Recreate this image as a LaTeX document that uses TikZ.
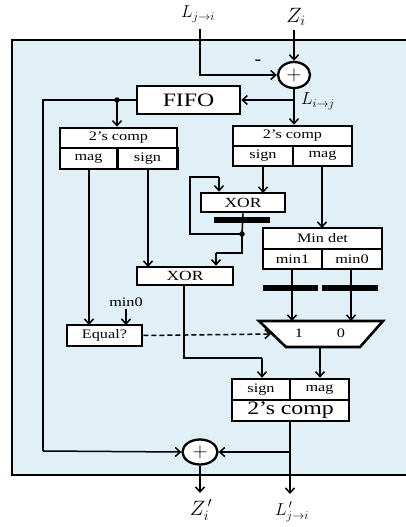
\documentclass[tikz,border=0pt]{standalone}
\usepackage{fontspec}
\setmainfont{Liberation Serif}[FakeStretch=1.25]
\usetikzlibrary{arrows.meta,shapes.geometric}
\definecolor{bgblue}{RGB}{224,240,246}
\begin{document}
\begin{tikzpicture}[x=1pt,y=-1pt,
  box/.style={draw, line width=2.6pt, fill=white, inner sep=0pt, minimum height=20pt},
  fs/.style={font=\fontsize{#1}{#1}\selectfont},
  wire/.style={line width=1.5pt},
  arr/.style={wire, -{Straight Barb[length=5pt,width=9pt]}},
  bar/.style={fill=black, inner sep=0pt, minimum height=6pt},
  dotn/.style={circle, fill=black, inner sep=0pt, minimum size=5.5pt},
  adder/.style={ellipse, draw, line width=2.3pt, fill=white, inner sep=0pt, fs=20},
  lab/.style={inner sep=1pt}]
\useasboundingbox (0,0) rectangle (405,527);
% outer panel
\fill[bgblue] (12,40) rectangle (412,475);
\draw[line width=2.8pt] (412,40) -- (12,40) -- (12,475) -- (412,475);

% top inputs
\node[lab, fs=18] (ljin) at (198,14) {$L_{j\rightarrow i}$};
\node[lab, fs=22] (zin) at (296,17) {$Z_i$};
\coordinate (ljtop) at (200,29);
\coordinate (ztop) at (294,30);
\node[adder, minimum width=32pt, minimum height=26pt] (add1) at (294,75) {$+$};
\node[lab, fs=16] (minus) at (258,62) {\textbf{-}};
\node[lab, fs=18, anchor=west] (lij) at (300,101) {$L_{i\rightarrow j}$};

% FIFO
\node[box, fs=19, minimum width=103pt, minimum height=28pt] (fifo) at (188.5,100) {FIFO};
\node[dotn] (dot1) at (117,100) {};
\coordinate (lcorner) at (43,100);
\coordinate (lbot) at (43,451);

% left 2's comp
\node[box, fs=13, minimum width=117pt] (lct) at (118.5,138) {2’s comp};
\node[box, fs=13, minimum width=57pt, minimum height=21pt] (lcm) at (88.5,158.5) {mag};
\node[box, fs=13, minimum width=60pt, minimum height=21pt] (lcs) at (147.5,158.5) {sign};

% right 2's comp
\node[box, fs=13, minimum width=119pt] (rct) at (292.5,136) {2’s comp};
\node[box, fs=13, minimum width=60pt] (rcs) at (263,156) {sign};
\node[box, fs=13, minimum width=59pt] (rcm) at (322.5,156) {mag};

% XOR 1 with register bar
\node[box, fs=14, minimum width=84pt, minimum height=19pt] (xor1) at (243,202.5) {XOR};
\node[bar, minimum width=56pt] (bar1) at (242,220) {};
\node[dotn] (dot2) at (242,234) {};
\coordinate (fb1) at (190,234);
\coordinate (fb2) at (190,177);
\coordinate (fb3) at (219,177);
\coordinate (x2a) at (242,253);
\coordinate (x2b) at (216,253);

% XOR 2
\node[box, fs=14, minimum width=96pt, minimum height=18pt] (xor2) at (185,276) {XOR};

% Min det
\node[box, fs=13, minimum width=119pt, minimum height=21pt] (mdt) at (322.5,238.5) {Min det};
\node[box, fs=13, minimum width=59pt] (md1) at (292.5,259) {min1};
\node[box, fs=13, minimum width=60pt] (md0) at (352,259) {min0};
\node[bar, minimum width=55pt] (bar2) at (290.5,288) {};
\node[bar, minimum width=56pt] (bar3) at (350,288) {};

% mux
\draw[line width=2.6pt, fill=white, line join=miter] (259,321) -- (383,321) -- (360,347) -- (286,347) -- cycle;
\coordinate (mux1) at (292,321);
\coordinate (mux0) at (351,321);
\coordinate (muxl) at (271,334);
\coordinate (muxo) at (320,347);
\node[lab, fs=13] (one) at (299,333) {1};
\node[lab, fs=13] (zero) at (341,333) {0};

% Equal?
\node[box, fs=13, minimum width=75pt, minimum height=21pt] (eq) at (104.5,335.5) {Equal?};
\node[lab, fs=13] (min0lab) at (126,302) {min0};

% bottom 2's comp
\node[box, fs=13, minimum width=58pt, minimum height=21pt] (bbs) at (261,389.5) {sign};
\node[box, fs=13, minimum width=59pt, minimum height=21pt] (bbm) at (319.5,389.5) {mag};
\node[box, fs=19, minimum width=117pt, minimum height=21pt] (bbt) at (290.5,410.5) {2’s comp};
\coordinate (x2c) at (184,358);
\coordinate (x2d) at (262,358);

% bottom adder and outputs
\node[adder, minimum width=35pt, minimum height=25pt] (add2) at (200,452) {$+$};
\coordinate (br2) at (290,452);
\coordinate (lout) at (290,494);
\coordinate (zout) at (200,493);
\node[lab, fs=21] (zlab) at (201,510) {$Z_i^{\,\prime}$};
\node[lab, fs=18] (llab) at (292,512) {$L_{j\rightarrow i}^{\,\prime}$};

% ---- connectors ----
\draw[arr] (ljtop) |- (add1.west);
\draw[arr] (ztop) -- (add1.north);
\draw[arr] (add1.south) -- (add1.south |- rct.north);
\draw[arr] (294,100) -- (fifo.east);
\draw[wire] (fifo.west) -- (dot1.center) -- (lcorner) -- (lbot);
\draw[arr] (lbot) -- (add2.west);
\draw[arr] (dot1.center) -- (dot1 |- lct.north);
\draw[arr] (89,169) -- (89,325);
\draw[arr] (148,169) -- (148,267);
\draw[arr] (263,166) -- (263,193);
\draw[arr] (322,166) -- (322,228);
\draw[wire] (xor1.south) -- (dot2.center);
\draw[wire] (dot2.center) -- (fb1) -- (fb2) -- (fb3);
\draw[arr] (fb3) -- (fb3 |- xor1.north);
\draw[wire] (dot2.center) -- (x2a) -- (x2b);
\draw[arr] (x2b) -- (x2b |- xor2.north);
\draw[arr] (292,269) -- (mux1);
\draw[arr] (351,269) -- (mux0);
\draw[arr] (126,309) -- (126,325);
\draw[arr, dashed, dash pattern=on 5pt off 3pt] (eq.east) -- (muxl);
\draw[wire] (184,285) -- (x2c) -- (x2d);
\draw[arr] (x2d) -- (x2d |- bbs.north);
\draw[arr] (muxo) -- (muxo |- bbm.north);
\draw[arr] (290,421) -- (lout);
\draw[arr] (br2) -- (add2.east);
\draw[arr] (add2.south) -- (zout);
\end{tikzpicture}
\end{document}
